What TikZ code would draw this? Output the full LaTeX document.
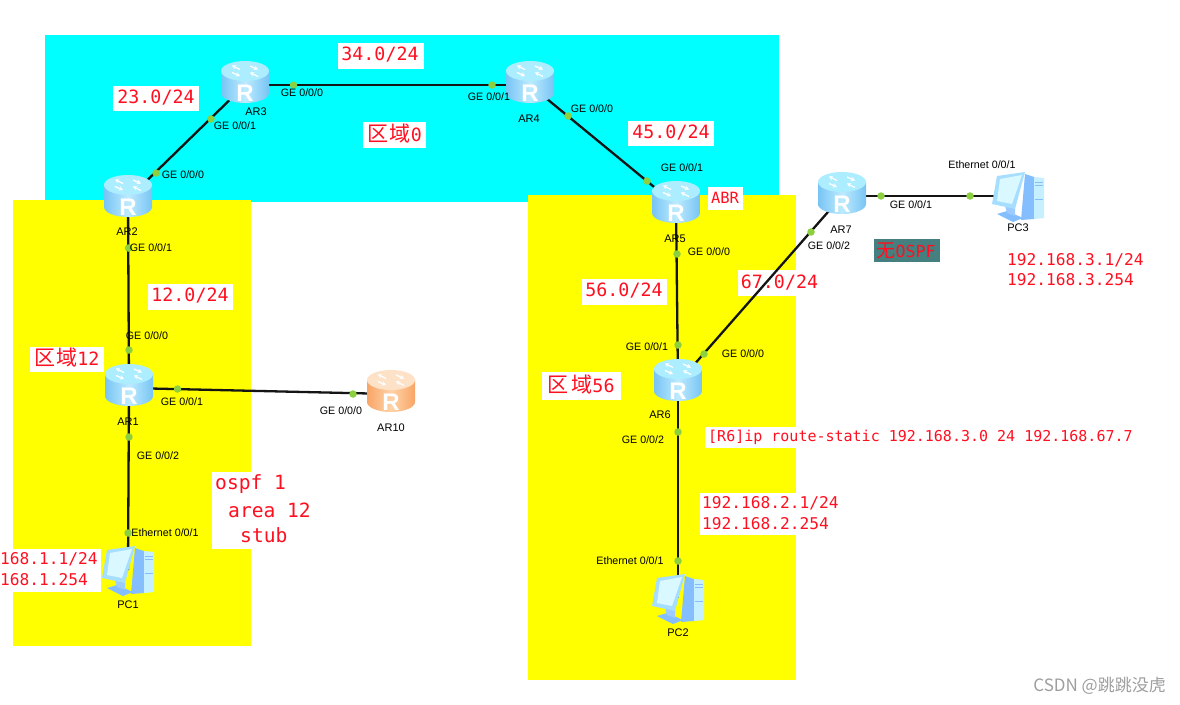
\documentclass[tikz,border=0pt]{standalone}
\usepackage{fontspec}
\setmainfont{Liberation Sans}
\newfontfamily\rmono{DejaVu Sans Mono}
\newfontfamily\cjkf{Noto Sans CJK SC}
\usetikzlibrary{arrows.meta}
\definecolor{areacyan}{HTML}{00FFFF}
\definecolor{areayellow}{HTML}{FFFF00}
\definecolor{dotgreen}{HTML}{8CCF3F}
\definecolor{tealbox}{HTML}{467F7F}
\definecolor{redtxt}{HTML}{FF1020}
\definecolor{rbSide}{HTML}{78C4F4}
\definecolor{rbMid}{HTML}{BDEBFF}
\definecolor{rbTop}{HTML}{ACEEFF}
\definecolor{roSide}{HTML}{F8A566}
\definecolor{roMid}{HTML}{FFD3A8}
\definecolor{roTop}{HTML}{FDE2C8}
\definecolor{pcFrame}{HTML}{A6DEFF}
\definecolor{pcScreen}{HTML}{DAF8FF}
\definecolor{pcSide}{HTML}{84BEFF}
\definecolor{pcFront}{HTML}{C6F0FF}
\tikzset{
  x=1pt,y=-1pt,
  hub/.style={inner sep=0pt,minimum size=2pt},
  link/.style={line width=2.3pt,black!92},
  portdot/.style={circle,fill=dotgreen,inner sep=0pt,minimum size=7.5pt},
  portlabel/.style={inner sep=0pt,font=\fontsize{10.7}{12}\selectfont,text=black},
  devlabel/.style={inner sep=0pt,font=\fontsize{11}{12}\selectfont,text=black},
  bignet/.style={inner sep=0pt,text=redtxt,font=\rmono\fontsize{18.3}{25}\selectfont},
  ipnote/.style={inner sep=0pt,anchor=west,align=left,text=redtxt,font=\rmono\fontsize{16.2}{20.5}\selectfont},
  cmdnote/.style={inner sep=0pt,anchor=west,text=redtxt,font=\rmono\fontsize{15}{18}\selectfont},
  ospfnote/.style={inner sep=0pt,anchor=west,text=redtxt,font=\rmono\fontsize{19.6}{25}\selectfont},
  zonenote/.style={inner sep=0pt,text=redtxt},
}
\newcommand{\port}[4]{\node[portlabel] (#1) at (#2,#3) {#4};}
\newcommand{\devname}[4]{\node[devlabel] (#1) at (#2,#3) {#4};}
\newcommand{\routericon}[4]{% node, side, middle, top
  \begin{scope}[shift={(#1.center)}]
    \path[left color=#2,right color=#2,middle color=#3]
      (-24,-14) -- (-24,8) arc[start angle=180,end angle=0,x radius=24,y radius=10] -- (24,-14) -- cycle;
    \path[fill=#4] (0,-14) ellipse[x radius=24,y radius=10];
    \begin{scope}[shift={(0,-14)},white,line width=1.3pt,-{Stealth[length=4pt,width=4.5pt]}]
      \draw (-5,-1.5) -- (-13,-5.5);
      \draw (5,-5) -- (13,-1.5);
      \draw (-13,1.5) -- (-5,5);
      \draw (13,5.5) -- (5,1.5);
    \end{scope}
    \node[inner sep=0pt,text=white,font=\bfseries\fontsize{24}{24}\selectfont] (#1-R) at (0,8.5) {R};
  \end{scope}}
\newcommand{\pcicon}[1]{%
  \begin{scope}[shift={(#1.center)}]
    % base and stand
    \fill[pcSide] (-21,18) -- (-11,15) -- (5,22) -- (-5,26) -- cycle;
    \fill[pcSide!80!white] (-13,10) -- (-3,12) -- (-3,20) -- (-11,17) -- cycle;
    % tower
    \fill[pcSide] (7,-22) -- (16,-19) -- (16,23) -- (3,24) -- cycle;
    \fill[pcFront] (16,-19) -- (26,-18) -- (26,22) -- (16,23) -- cycle;
    \draw[pcSide,line width=.6pt] (17,-14) -- (25,-14) (17,-11) -- (25,-11) (17,3) -- (25,3);
    % monitor
    \fill[pcFrame] (-21,-20) -- (7,-24) -- (-3,13) -- (-26,8) -- cycle;
    \fill[pcScreen] (-18,-17) -- (4,-21) -- (-6,8) -- (-21,5) -- cycle;
  \end{scope}}
\begin{document}
\begin{tikzpicture}
\useasboundingbox (0,0) rectangle (1180,704);
\fill[white] (0,0) rectangle (1180,704);
% areas
\fill[areacyan] (45,35) rectangle (779,202);
\fill[areayellow] (13,200) rectangle (251,646);
\fill[areayellow] (528,195) rectangle (796,680);
% label backgrounds
\fill[white] (113,86) rectangle (199,111);
\fill[white] (338,43) rectangle (424,69);
\fill[white] (363,122) rectangle (426,148);
\fill[white] (628,121) rectangle (714,146);
\fill[white] (708,187) rectangle (743,210);
\fill[white] (148,284) rectangle (233,310);
\fill[white] (30,347) rectangle (104,372);
\fill[white] (212,472) rectangle (312,549);
\fill[white] (0,549) rectangle (101,592);
\fill[white] (582,279) rectangle (667,305);
\fill[white] (738,270) rectangle (822,296);
\fill[white] (542,372) rectangle (621,400);
\fill[white] (705,427) rectangle (1140,448);
\fill[white] (700,493) rectangle (842,535);
\fill[tealbox] (874,239) rectangle (940,262);
% device anchors
\node[hub] (AR1) at (129,388) {};
\node[hub] (AR2) at (128,199) {};
\node[hub] (AR3) at (245,85) {};
\node[hub] (AR4) at (530,85) {};
\node[hub] (AR5) at (676,205) {};
\node[hub] (AR6) at (678,383) {};
\node[hub] (AR7) at (842,196) {};
\node[hub] (AR10) at (391,394) {};
\node[hub] (PC1) at (128,570) {};
\node[hub] (PC2) at (678,598) {};
\node[hub] (PC3) at (1018,196) {};
% links
\draw[link] (AR2.center) -- (AR3.center);
\draw[link] (AR3.center) -- (AR4.center);
\draw[link] (AR4.center) -- (AR5.center);
\draw[link] (AR2.center) -- (AR1.center);
\draw[link] (AR1.center) -- (AR10.center);
\draw[link] (AR1.center) -- (PC1.center);
\draw[link] (AR5.center) -- (AR6.center);
\draw[link] (AR6.center) -- (AR7.center);
\draw[link] (AR6.center) -- (PC2.center);
\draw[link] (AR7.center) -- (PC3.center);
% icons
\routericon{AR1}{rbSide}{rbMid}{rbTop}
\routericon{AR2}{rbSide}{rbMid}{rbTop}
\routericon{AR3}{rbSide}{rbMid}{rbTop}
\routericon{AR4}{rbSide}{rbMid}{rbTop}
\routericon{AR5}{rbSide}{rbMid}{rbTop}
\routericon{AR6}{rbSide}{rbMid}{rbTop}
\routericon{AR7}{rbSide}{rbMid}{rbTop}
\routericon{AR10}{roSide}{roMid}{roTop}
\pcicon{PC1}
\pcicon{PC2}
\pcicon{PC3}
% port dots
\node[portdot] (d01) at (211,119) {};
\node[portdot] (d02) at (156,173) {};
\node[portdot] (d03) at (293.5,85) {};
\node[portdot] (d04) at (492,85) {};
\node[portdot] (d05) at (128.5,248) {};
\node[portdot] (d06) at (129,350) {};
\node[portdot] (d07) at (177.5,389) {};
\node[portdot] (d08) at (353,394) {};
\node[portdot] (d09) at (129,437) {};
\node[portdot] (d10) at (128,533) {};
\node[portdot] (d11) at (568,116) {};
\node[portdot] (d12) at (647,181) {};
\node[portdot] (d13) at (677,254) {};
\node[portdot] (d14) at (678,345) {};
\node[portdot] (d15) at (704,354) {};
\node[portdot] (d16) at (811,232) {};
\node[portdot] (d17) at (678,432) {};
\node[portdot] (d18) at (678,561) {};
\node[portdot] (d19) at (881,196) {};
\node[portdot] (d20) at (970,196) {};
% port labels
\port{p01}{302}{93}{GE 0/0/0}
\port{p02}{235}{126}{GE 0/0/1}
\port{p03}{183}{175}{GE 0/0/0}
\port{p04}{151}{248}{GE 0/0/1}
\port{p05}{147}{336}{GE 0/0/0}
\port{p06}{182}{402}{GE 0/0/1}
\port{p07}{341}{411}{GE 0/0/0}
\port{p08}{158}{456}{GE 0/0/2}
\port{p09}{165}{533}{Ethernet 0/0/1}
\port{p10}{489}{97}{GE 0/0/1}
\port{p11}{592}{109}{GE 0/0/0}
\port{p12}{682}{168}{GE 0/0/1}
\port{p13}{709}{252}{GE 0/0/0}
\port{p14}{647}{347}{GE 0/0/1}
\port{p15}{743}{354}{GE 0/0/0}
\port{p16}{643}{440}{GE 0/0/2}
\port{p17}{630}{561}{Ethernet 0/0/1}
\port{p18}{829}{246}{GE 0/0/2}
\port{p19}{911}{205}{GE 0/0/1}
\port{p20}{982}{165}{Ethernet 0/0/1}
% device names
\devname{n01}{128}{422}{AR1}
\devname{n02}{127}{232}{AR2}
\devname{n03}{256}{112}{AR3}
\devname{n04}{529}{119}{AR4}
\devname{n05}{675}{239}{AR5}
\devname{n06}{660}{415}{AR6}
\devname{n07}{841}{230}{AR7}
\devname{n10}{391}{428}{AR10}
\devname{n11}{128}{605}{PC1}
\devname{n12}{678}{633}{PC2}
\devname{n13}{1018}{228}{PC3}
% network labels
\node[bignet] (t01) at (156,97.5) {23.0/24};
\node[bignet] (t02) at (380,55) {34.0/24};
\node[bignet] (t03) at (671,132.5) {45.0/24};
\node[bignet] (t04) at (190,296) {12.0/24};
\node[bignet] (t05) at (624,291) {56.0/24};
\node[bignet] (t06) at (779.5,282.5) {67.0/24};
\node[zonenote] (z0) at (395,134) {\cjkf\fontsize{21}{21}\selectfont 区\hspace{1pt}域\rmono\fontsize{18.3}{18}\selectfont 0};
\node[zonenote] (z12) at (67,358) {\cjkf\fontsize{21}{21}\selectfont 区\hspace{1pt}域\rmono\fontsize{18.3}{18}\selectfont 12};
\node[zonenote] (z56) at (581,385) {\cjkf\fontsize{21}{21}\selectfont 区\hspace{3pt}域\rmono\fontsize{18.3}{18}\selectfont 56};
\node[inner sep=0pt,text=redtxt,font=\rmono\fontsize{15.5}{18}\selectfont] (abr) at (725,198) {ABR};
\node[inner sep=0pt,text=redtxt] (noospf) at (906,250.5) {\cjkf\fontsize{19}{19}\selectfont 无\rmono\fontsize{16.6}{18}\selectfont OSPF};
\node[ospfnote] (o1) at (215,484) {ospf 1};
\node[ospfnote] (o2) at (228,510) {area 12};
\node[ospfnote] (o3) at (240,535) {stub};
\node[ipnote] (ip1) at (0,569) {168.1.1/24\\168.1.254};
\node[ipnote] (ip2) at (702,513) {192.168.2.1/24\\192.168.2.254};
\node[ipnote] (ip3) at (1007,269.5) {192.168.3.1/24\\192.168.3.254};
\node[cmdnote] (cmd) at (708,437) {[R6]ip route-static 192.168.3.0 24 192.168.67.7};
\node[inner sep=0pt,anchor=east,text=black!38] (wm) at (1166,686) {\cjkf\fontsize{17}{17}\selectfont CSDN @跳跳没虎};
\end{tikzpicture}
\end{document}
